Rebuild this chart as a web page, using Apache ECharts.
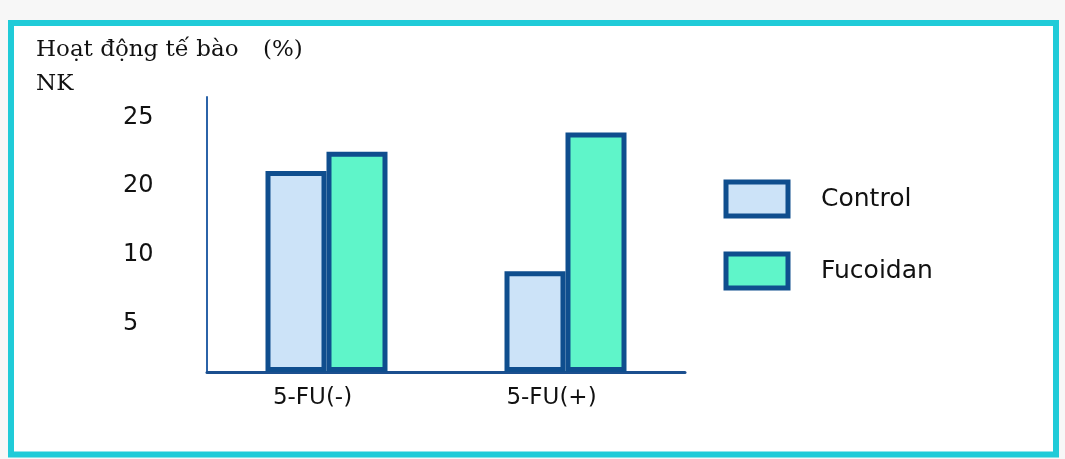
<!DOCTYPE html>
<html>
<head>
<meta charset="utf-8">
<title>Hoạt động tế bào NK</title>
<script src="https://cdn.jsdelivr.net/npm/echarts@6/dist/echarts.min.js"></script>
<style>
html, body { margin: 0; padding: 0; background: #fff; }
#chart { width: 1065px; height: 459px; }
</style>
</head>
<body>
<div id="chart"></div>
<script>
var categories = ['5-FU(-)', '5-FU(+)'];
var seriesNames = ['Control', 'Fucoidan'];
var controlValues = [21.1, 8.8];
var fucoidanValues = [22.5, 23.9];
var tickValues = [5, 10, 20, 25];
var tickLabels = ['5', '10', '20', '25'];

// y axis labels are evenly spaced though the values are not (5,10,20,25),
// the base line sits a bit less than one step below "5"
var BASE_GAP = 0.705;
function toAxis(v) {
    var k = 0;
    while (k < tickValues.length - 2 && v > tickValues[k + 1]) k++;
    return BASE_GAP + k + (v - tickValues[k]) / (tickValues[k + 1] - tickValues[k]);
}
var tickPositions = tickValues.map(toAxis);

var borderBlue = '#0f4e8e';
var myChart = echarts.init(document.getElementById('chart'));

var titleStyle = { fontFamily: 'DejaVu Serif', fontSize: 23, fontWeight: 'normal', color: '#111', lineHeight: 34 };

var option = {
    backgroundColor: '#f7f7f7',
    animation: false,
    graphic: [{
        type: 'rect',
        z: -1,
        shape: { x: 11, y: 23, width: 1045, height: 431.5 },
        style: { fill: '#fff', stroke: '#20cbd8', lineWidth: 6 }
    }],
    title: [{
        text: 'Hoạt động tế bào\nNK',
        left: 36, top: 33, padding: 0,
        textStyle: titleStyle
    }, {
        text: '(%)',
        left: 263, top: 33, padding: 0,
        textStyle: titleStyle
    }],
    legend: {
        orient: 'vertical',
        left: 723.5, top: 179.5, padding: 0,
        itemWidth: 62, itemHeight: 34, itemGap: 33,
        icon: 'rect',
        data: seriesNames,
        itemStyle: { borderColor: borderBlue, borderWidth: 5 },
        textStyle: { fontFamily: 'DejaVu Sans', fontSize: 25, color: '#111', padding: [14, 0, 0, 28] }
    },
    grid: { left: 207, right: 380, top: 97, bottom: 87 },
    xAxis: {
        type: 'category',
        data: categories,
        axisLine: { lineStyle: { color: '#1b4f8f', width: 3 } },
        axisTick: { show: false },
        axisLabel: { fontFamily: 'DejaVu Sans', fontSize: 23, color: '#111', margin: 15, padding: [0, 28, 0, 0] }
    },
    yAxis: {
        type: 'value',
        min: 0,
        max: 4,
        axisLine: { show: true, lineStyle: { color: '#2b63a8', width: 2 } },
        axisTick: { show: false },
        splitLine: { show: false },
        axisLabel: {
            customValues: tickPositions,
            align: 'left',
            margin: 84,
            fontFamily: 'DejaVu Sans', fontSize: 24, color: '#111',
            formatter: function (val) {
                return tickLabels[Math.round(val - BASE_GAP)];
            }
        }
    },
    series: [{
        name: seriesNames[0],
        type: 'bar',
        barWidth: 61,
        barGap: '0%',
        data: controlValues.map(toAxis),
        itemStyle: { color: '#cce3f8', borderColor: borderBlue, borderWidth: 5 }
    }, {
        name: seriesNames[1],
        type: 'bar',
        barWidth: 61,
        barGap: '0%',
        data: fucoidanValues.map(toAxis),
        itemStyle: { color: '#5ff5c9', borderColor: borderBlue, borderWidth: 5 }
    }]
};

myChart.setOption(option);
</script>
</body>
</html>
